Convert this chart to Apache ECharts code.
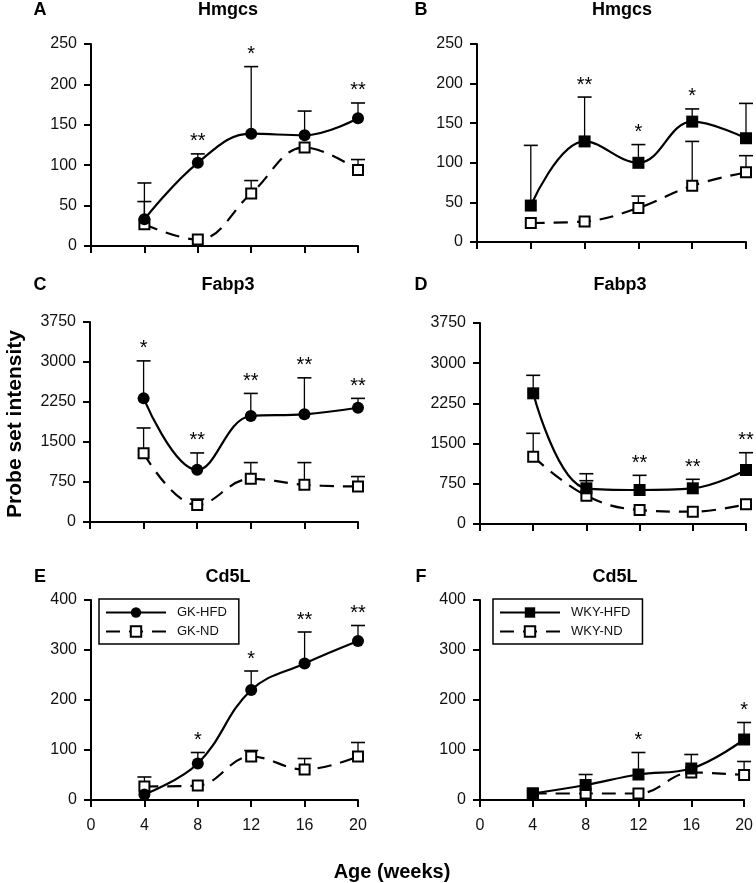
<!DOCTYPE html>
<html>
<head>
<meta charset="utf-8">
<script src="https://cdn.jsdelivr.net/npm/echarts@6/dist/echarts.min.js"></script>
<style>html,body{margin:0;padding:0;background:#fff;}#c{width:756px;height:883px;}</style>
</head>
<body>
<div id="c"></div>
<script>
// ---- data ----
const weeks = [4, 8, 12, 16, 20];
const xTicks = [0, 4, 8, 12, 16, 20];
const panelLetters = ['A', 'B', 'C', 'D', 'E', 'F'];
const panelTitles = ['Hmgcs', 'Hmgcs', 'Fabp3', 'Fabp3', 'Cd5L', 'Cd5L'];
const yMaxes = [250, 250, 3750, 3750, 400, 400];
const yIntervals = [50, 50, 750, 750, 100, 100];
const hfdNames = ['GK-HFD', 'WKY-HFD', 'GK-HFD', 'WKY-HFD', 'GK-HFD', 'WKY-HFD'];
const ndNames = ['GK-ND', 'WKY-ND', 'GK-ND', 'WKY-ND', 'GK-ND', 'WKY-ND'];

// Hmgcs GK (A)
const hfdA = [33, 103, 139, 137, 158];
const hfdErrA = [45, 11, 83, 30, 19];
const ndA = [27, 8, 65, 122, 94];
const ndErrA = [28, 0, 16, 0, 13];
const starsA = ['', '**', '*', '', '**'];
// Hmgcs WKY (B)
const hfdB = [46, 127, 100, 152, 131];
const hfdErrB = [76, 56, 23, 16, 44];
const ndB = [24, 26, 43, 71, 88];
const ndErrB = [0, 0, 15, 56, 21];
const starsB = ['', '**', '*', '*', ''];
// Fabp3 GK (C)
const hfdC = [2318, 978, 1987, 2019, 2142];
const hfdErrC = [703, 317, 424, 684, 176];
const ndC = [1290, 318, 809, 697, 666];
const ndErrC = [473, 112, 305, 417, 186];
const starsC = ['*', '**', '**', '**', '**'];
// Fabp3 WKY (D)
const hfdD = [2438, 666, 634, 666, 1007];
const hfdErrD = [336, 272, 274, 168, 323];
const ndD = [1256, 528, 261, 230, 367];
const ndErrD = [436, 280, 0, 0, 0];
const starsD = ['', '', '**', '**', '**'];
// Cd5L GK (E)
const hfdE = [11, 73, 220, 273, 318];
const hfdErrE = [0, 22, 38, 63, 31];
const ndE = [27, 29, 87, 61, 87];
const ndErrE = [19, 0, 12, 22, 28];
const starsE = ['', '*', '*', '**', '**'];
// Cd5L WKY (F)
const hfdF = [13, 30, 51, 63, 121];
const hfdErrF = [0, 21, 44, 28, 34];
const ndF = [13, 13, 13, 55, 50];
const ndErrF = [0, 0, 0, 0, 27];
const starsF = ['', '', '*', '', '*'];

const hfdAll = [hfdA, hfdB, hfdC, hfdD, hfdE, hfdF];
const hfdErrAll = [hfdErrA, hfdErrB, hfdErrC, hfdErrD, hfdErrE, hfdErrF];
const ndAll = [ndA, ndB, ndC, ndD, ndE, ndF];
const ndErrAll = [ndErrA, ndErrB, ndErrC, ndErrD, ndErrE, ndErrF];
const starsAll = [starsA, starsB, starsC, starsD, starsE, starsF];

// ---- layout ----
const FONT = '"Liberation Sans", Arial, Helvetica, sans-serif';
const grids = [
  { left: 91, top: 44, width: 267, height: 202 },
  { left: 477, top: 44, width: 269, height: 198 },
  { left: 90, top: 322, width: 268, height: 200 },
  { left: 480, top: 323, width: 266, height: 201 },
  { left: 91, top: 600, width: 267, height: 200 },
  { left: 480, top: 600, width: 266, height: 200 }
];
const letterPos = [[40, 1], [421, 1], [40, 276], [421, 276], [40, 568], [421, 568]];
const titleCenters = [[228, 1], [622, 1], [228, 276], [620, 276], [228, 568], [615, 568]];

const xAxes = [], yAxes = [], series = [], titles = [];
for (let i = 0; i < 6; i++) {
  const bottomRow = i >= 4;
  xAxes.push({
    type: 'value', gridIndex: i, min: 0, max: 20, interval: 4,
    axisLine: { show: true, onZero: false, lineStyle: { color: '#000', width: 2 } },
    axisTick: { show: true, inside: false, length: 7, lineStyle: { color: '#000', width: 2 } },
    axisLabel: { show: bottomRow, color: '#111', fontSize: 16, fontFamily: FONT, margin: 18 },
    splitLine: { show: false }
  });
  yAxes.push({
    type: 'value', gridIndex: i, min: 0, max: yMaxes[i], interval: yIntervals[i],
    axisLine: { show: true, lineStyle: { color: '#000', width: 2 } },
    axisTick: { show: true, inside: false, length: 7, lineStyle: { color: '#000', width: 2 } },
    axisLabel: { color: '#111', fontSize: 16, fontFamily: FONT, margin: 14, formatter: function (v) { return String(v); } },
    splitLine: { show: false }
  });
  titles.push({
    text: panelLetters[i], left: letterPos[i][0], top: letterPos[i][1], padding: 0,
    textAlign: 'center',
    textStyle: { fontSize: 18, fontWeight: 'bold', color: '#000', fontFamily: FONT }
  });
  titles.push({
    text: panelTitles[i], left: titleCenters[i][0], top: titleCenters[i][1], padding: 0,
    textAlign: 'center',
    textStyle: { fontSize: 18, fontWeight: 'bold', color: '#000', fontFamily: FONT }
  });

  const isGK = (i % 2 === 0);
  const hfd = hfdAll[i], nd = ndAll[i], he = hfdErrAll[i], ne = ndErrAll[i], st = starsAll[i];

  const errSeries = (vals, errs) => ({
    type: 'custom', xAxisIndex: i, yAxisIndex: i, z: 2, silent: true,
    data: weeks.map((w, j) => [w, vals[j], vals[j] + errs[j]]),
    renderItem: function (params, api) {
      const x = api.value(0), m = api.value(1), t = api.value(2);
      if (t <= m) return null;
      const p0 = api.coord([x, m]);
      const p1 = api.coord([x, t]);
      return {
        type: 'group',
        children: [
          { type: 'line', shape: { x1: p0[0], y1: p0[1], x2: p1[0], y2: p1[1] }, style: { stroke: '#000', lineWidth: 1.3 } },
          { type: 'line', shape: { x1: p1[0] - 7, y1: p1[1], x2: p1[0] + 7, y2: p1[1] }, style: { stroke: '#000', lineWidth: 1.6 } }
        ]
      };
    }
  });
  series.push(errSeries(hfd, he));
  series.push(errSeries(nd, ne));

  series.push({
    name: ndNames[i], type: 'line', xAxisIndex: i, yAxisIndex: i, z: 3,
    data: weeks.map((w, j) => [w, nd[j]]),
    smooth: 0.4,
    symbol: 'rect', symbolSize: 10,
    itemStyle: { color: '#fff', borderColor: '#000', borderWidth: 2 },
    lineStyle: { color: '#000', width: 2.2, type: [14, 9] },
    emphasis: { disabled: true }
  });
  series.push({
    name: hfdNames[i], type: 'line', xAxisIndex: i, yAxisIndex: i, z: 4,
    data: weeks.map((w, j) => [w, hfd[j]]),
    smooth: 0.4,
    symbol: isGK ? 'circle' : 'rect', symbolSize: 12,
    itemStyle: { color: '#000', borderColor: '#000', borderWidth: 0 },
    lineStyle: { color: '#000', width: 2.2, type: 'solid' },
    emphasis: { disabled: true }
  });
  series.push({
    type: 'custom', xAxisIndex: i, yAxisIndex: i, z: 5, silent: true,
    data: weeks.map((w, j) => [w, Math.max(hfd[j] + he[j], nd[j] + ne[j])]),
    renderItem: function (params, api) {
      const s = st[params.dataIndex];
      if (!s) return null;
      const p = api.coord([api.value(0), api.value(1)]);
      return {
        type: 'text',
        style: { text: s, x: p[0], y: p[1] - 2, align: 'center', verticalAlign: 'bottom', fill: '#000', font: '20px ' + FONT }
      };
    }
  });
}

const legendBase = {
  orient: 'vertical', itemWidth: 60, itemHeight: 13, itemGap: 6,
  borderColor: '#000', borderWidth: 1.5, padding: [7, 12, 6, 6],
  selectedMode: false,
  textStyle: { fontSize: 13, color: '#111', fontFamily: FONT, padding: [0, 0, 0, 6] }
};

const option = {
  animation: false,
  backgroundColor: '#fff',
  title: titles,
  legend: [
    Object.assign({}, legendBase, { data: ['GK-HFD', 'GK-ND'], left: 99, top: 599 }),
    Object.assign({}, legendBase, { data: ['WKY-HFD', 'WKY-ND'], left: 493, top: 599 })
  ],
  grid: grids,
  xAxis: xAxes,
  yAxis: yAxes,
  series: series,
  graphic: [
    { type: 'text', x: 15, y: 424, rotation: Math.PI / 2,
      style: { text: 'Probe set intensity', align: 'center', verticalAlign: 'middle', fill: '#000', font: 'bold 21px ' + FONT } },
    { type: 'text', x: 392, y: 872,
      style: { text: 'Age (weeks)', align: 'center', verticalAlign: 'middle', fill: '#000', font: 'bold 20px ' + FONT } }
  ]
};

const chart = echarts.init(document.getElementById('c'), null, { renderer: 'canvas' });
chart.setOption(option);
</script>
</body>
</html>
